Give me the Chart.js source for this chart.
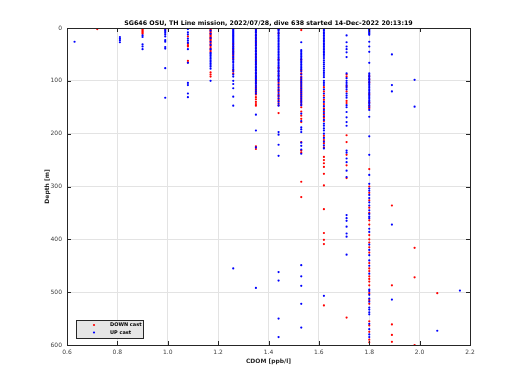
<!DOCTYPE html>
<html lang="en">
  <head>
    <meta charset="UTF-8" />
    <title>SG646 CDOM profile</title>
    <script src="https://cdn.jsdelivr.net/npm/chart.js@4"></script>
    <style>
      body { margin: 0; background: white; }
      canvas { display: block; }
    </style>
  </head>
  <body>
    <canvas id="chart" width="520" height="390"></canvas>
    <script>
      const titleText = "SG646 OSU, TH Line mission, 2022/07/28, dive 638 started 14-Dec-2022 20:13:19";
      const xLabel = "CDOM [ppb/l]";
      const yLabel = "Depth [m]";
      const legendLabels = ["DOWN cast", "UP cast"];

      // CDOM is quantized, so the points fall in columns
      const cdomLevels = [0.63, 0.72, 0.81, 0.90, 0.99, 1.08, 1.17, 1.26, 1.35, 1.44, 1.53, 1.62, 1.71, 1.80, 1.89, 1.98, 2.07, 2.16];

      // depths [m] per CDOM column, down cast
      const downDepths = [
        [],
        [2],
        [],
        [1, 3, 5, 7, 9, 11],
        [2],
        [16, 30, 33, 35, 62, 65],
        [2, 4, 6, 8, 10, 12, 14, 16, 18, 20, 22, 24, 27, 30, 33, 36, 39, 42, 45, 84, 88, 92],
        [30, 35, 40, 44, 48, 52, 58, 80, 86],
        [3, 8, 14, 20, 26, 32, 38, 44, 50, 56, 62, 68, 74, 80, 86, 92, 98, 104, 110, 114, 118, 122, 126, 131, 135, 140, 144, 147, 224, 229],
        [2, 10, 60, 75, 82, 90, 98, 104, 110, 116, 120, 126, 130, 135, 140, 146, 161],
        [4, 60, 80, 86, 92, 96, 100, 104, 108, 112, 116, 120, 124, 128, 132, 136, 140, 145, 150, 158, 166, 172, 178, 216, 232, 236, 291, 320],
        [112, 120, 128, 136, 144, 152, 158, 164, 170, 176, 204, 212, 218, 226, 244, 250, 256, 263, 276, 298, 343, 388, 401, 409, 525],
        [88, 92, 110, 120, 138, 142, 203, 216, 240, 260, 284, 548],
        [91, 97, 103, 125, 141, 148, 152, 267, 300, 312, 326, 340, 350, 364, 372, 392, 400, 406, 415, 425, 445, 455, 460, 470, 475, 480, 487, 502, 515, 522, 555, 563, 575, 590, 595],
        [336, 487, 561, 581, 594],
        [416, 472, 600],
        [502],
        []
      ];

      // depths [m] per CDOM column, up cast
      const upDepths = [
        [26],
        [],
        [17, 20, 23, 27],
        [14, 17, 31, 35, 40],
        [1, 4, 6, 9, 12, 16, 23, 26, 36, 39, 76, 132],
        [2, 8, 12, 20, 24, 28, 40, 66, 104, 108, 124, 131],
        [5, 11, 19, 26, 32, 40, 47, 49, 52, 55, 58, 61, 64, 67, 70, 73, 77, 100],
        [2, 4, 6, 8, 10, 12, 14, 16, 18, 20, 22, 24, 26, 28, 31, 34, 37, 39, 42, 45, 47, 50, 54, 56, 60, 63, 66, 70, 74, 78, 82, 88, 92, 100, 106, 114, 130, 147, 455],
        [1, 4, 6, 9, 12, 15, 18, 21, 24, 27, 30, 33, 36, 39, 42, 45, 48, 51, 54, 57, 60, 63, 66, 69, 72, 75, 78, 81, 84, 87, 90, 93, 96, 99, 102, 105, 108, 112, 116, 120, 124, 164, 194, 226, 492],
        [1, 3, 5, 8, 11, 14, 17, 20, 23, 26, 29, 32, 35, 38, 41, 44, 47, 50, 53, 56, 59, 62, 65, 68, 71, 74, 77, 80, 83, 86, 89, 92, 95, 98, 101, 107, 113, 118, 123, 128, 133, 138, 143, 147, 197, 202, 221, 242, 462, 478, 550, 585],
        [27, 42, 45, 48, 51, 54, 57, 60, 63, 66, 69, 72, 75, 78, 82, 88, 94, 98, 102, 106, 110, 114, 118, 122, 126, 130, 134, 138, 142, 146, 162, 176, 188, 192, 197, 217, 223, 230, 238, 449, 470, 488, 522, 567],
        [2, 5, 8, 11, 14, 17, 20, 23, 26, 29, 32, 35, 38, 41, 44, 47, 50, 53, 57, 61, 65, 69, 73, 77, 81, 85, 89, 93, 100, 104, 108, 116, 124, 132, 140, 148, 155, 161, 167, 174, 181, 185, 190, 194, 200, 208, 215, 222, 228, 507],
        [14, 27, 35, 40, 46, 55, 86, 95, 100, 104, 108, 112, 116, 124, 128, 132, 146, 150, 159, 169, 178, 185, 232, 236, 247, 254, 270, 282, 354, 360, 365, 376, 389, 395, 429],
        [1, 3, 5, 7, 9, 11, 13, 26, 35, 45, 66, 86, 89, 92, 95, 98, 101, 104, 107, 110, 113, 116, 119, 122, 125, 128, 131, 134, 137, 140, 143, 146, 150, 155, 168, 205, 240, 278, 295, 304, 308, 316, 322, 330, 336, 345, 352, 357, 360, 380, 386, 410, 420, 430, 440, 450, 465, 495, 498, 505, 512, 518, 529, 533, 538, 542, 560, 570, 580, 585],
        [50, 108, 120, 372, 514],
        [98, 149],
        [573],
        [497]
      ];

      const xTicks = { min: 0.6, max: 2.2, step: 0.2 };
      const yTicks = { min: 0, max: 600, step: 100 };

      const RED = "#ff0000";
      const BLUE = "#0000ff";
      const FONT = "DejaVu Sans";

      function toPoints(depthLists) {
        const pts = [];
        depthLists.forEach((list, i) => {
          list.forEach(d => pts.push({ x: cdomLevels[i], y: d }));
        });
        return pts;
      }

      // title, axis labels, box with inward ticks and the legend, matlab style
      const decorations = {
        id: "decorations",
        afterDraw(chart) {
          const ctx = chart.ctx;
          const area = chart.chartArea;
          const xs = chart.scales.x;
          const ys = chart.scales.y;
          ctx.save();

          // box
          ctx.strokeStyle = "#262626";
          ctx.lineWidth = 1;
          ctx.strokeRect(Math.round(area.left) + 0.5, Math.round(area.top) + 0.5,
            Math.round(area.right - area.left), Math.round(area.bottom - area.top));

          // inward ticks
          const tl = 4;
          ctx.beginPath();
          for (let v = xTicks.min; v <= xTicks.max + 1e-9; v += xTicks.step) {
            const px = Math.round(xs.getPixelForValue(v)) + 0.5;
            ctx.moveTo(px, area.bottom); ctx.lineTo(px, area.bottom - tl);
            ctx.moveTo(px, area.top); ctx.lineTo(px, area.top + tl);
          }
          for (let v = yTicks.min; v <= yTicks.max; v += yTicks.step) {
            const py = Math.round(ys.getPixelForValue(v)) + 0.5;
            ctx.moveTo(area.left, py); ctx.lineTo(area.left + tl, py);
            ctx.moveTo(area.right, py); ctx.lineTo(area.right - tl, py);
          }
          ctx.stroke();

          // title
          ctx.fillStyle = "#000";
          ctx.textAlign = "center";
          ctx.textBaseline = "middle";
          ctx.font = "bold 6.3px " + FONT;
          ctx.fillText(titleText, (area.left + area.right) / 2, 23.5);

          // axis titles
          ctx.fillStyle = "#262626";
          ctx.font = "bold 6px " + FONT;
          ctx.fillText(xLabel, (area.left + area.right) / 2, 361);
          ctx.save();
          ctx.translate(47.5, (area.top + area.bottom) / 2);
          ctx.rotate(-Math.PI / 2);
          ctx.fillText(yLabel, 0, 0);
          ctx.restore();

          // legend
          const lx = 76, ly = 320, lw = 67, lh = 18;
          ctx.fillStyle = "#e6e6e6";
          ctx.fillRect(lx, ly, lw, lh);
          ctx.strokeStyle = "#262626";
          ctx.strokeRect(lx + 0.5, ly + 0.5, lw, lh);
          const colors = [RED, BLUE];
          ctx.textAlign = "left";
          ctx.font = "bold 5px " + FONT;
          legendLabels.forEach((label, i) => {
            const yy = ly + 5 + i * 7.5;
            ctx.fillStyle = colors[i];
            ctx.beginPath();
            ctx.arc(94, yy, 1.1, 0, Math.PI * 2);
            ctx.fill();
            ctx.fillStyle = "#000";
            ctx.fillText(label, 110, yy);
          });

          ctx.restore();
        }
      };

      const tickFont = { family: FONT, size: 6 };

      new Chart(document.getElementById("chart"), {
        type: "scatter",
        data: {
          datasets: [
            {
              label: legendLabels[0],
              data: toPoints(downDepths),
              backgroundColor: RED,
              borderWidth: 0,
              pointRadius: 1.1,
              order: 1
            },
            {
              label: legendLabels[1],
              data: toPoints(upDepths),
              backgroundColor: BLUE,
              borderWidth: 0,
              pointRadius: 1.1,
              order: 0
            }
          ]
        },
        options: {
          responsive: false,
          animation: false,
          layout: { padding: { top: 28, right: 50, left: 0, bottom: 0 } },
          plugins: {
            legend: { display: false },
            tooltip: { enabled: false }
          },
          scales: {
            x: {
              type: "linear",
              min: xTicks.min,
              max: xTicks.max,
              ticks: { stepSize: xTicks.step, font: tickFont, color: "#404040", padding: 4 },
              grid: { color: "#e3e3e3", drawTicks: false },
              border: { display: false },
              afterFit(scale) { scale.height = 45; }
            },
            y: {
              type: "linear",
              reverse: true,
              min: yTicks.min,
              max: yTicks.max,
              ticks: { stepSize: yTicks.step, font: tickFont, color: "#404040", padding: 5 },
              grid: { color: "#e3e3e3", drawTicks: false },
              border: { display: false },
              afterFit(scale) { scale.width = 67; }
            }
          }
        },
        plugins: [decorations]
      });
    </script>
  </body>
</html>
